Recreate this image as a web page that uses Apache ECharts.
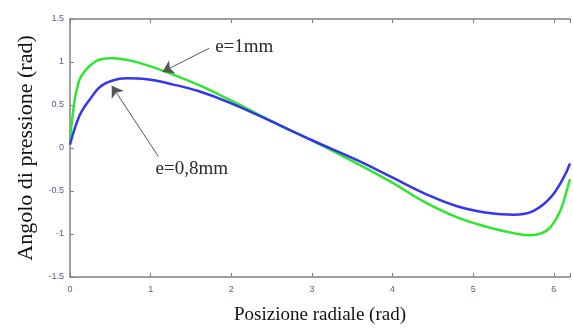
<!DOCTYPE html>
<html>
<head>
<meta charset="utf-8">
<script src="https://cdn.jsdelivr.net/npm/echarts@6/dist/echarts.min.js"></script>
<style>
html, body { margin: 0; padding: 0; background: #fff; }
#chart { width: 573px; height: 330px; }
</style>
</head>
<body>
<div id="chart"></div>
<script>
// e=1mm (green) curve
var greenX = [0, 0.03, 0.06, 0.09, 0.12, 0.18, 0.25, 0.37, 0.53, 0.78, 1.15, 1.6, 2.0, 2.59, 3.0, 3.58, 3.99, 4.4, 4.81, 5.22, 5.5, 5.71, 5.85, 5.96, 6.08, 6.17, 6.2];
var greenY = [0.11, 0.36, 0.57, 0.70, 0.80, 0.89, 0.96, 1.03, 1.045, 1.01, 0.90, 0.73, 0.55, 0.27, 0.09, -0.19, -0.40, -0.63, -0.81, -0.93, -0.99, -1.015, -0.99, -0.92, -0.73, -0.46, -0.36];
// e=0,8mm (blue) curve
var blueX = [0, 0.03, 0.06, 0.12, 0.18, 0.25, 0.37, 0.53, 0.7, 0.95, 1.27, 1.6, 2.0, 2.59, 3.0, 3.58, 3.99, 4.4, 4.81, 5.22, 5.51, 5.75, 5.96, 6.12, 6.2];
var blueY = [0.04, 0.14, 0.23, 0.38, 0.48, 0.57, 0.71, 0.785, 0.81, 0.80, 0.74, 0.66, 0.52, 0.27, 0.09, -0.15, -0.34, -0.53, -0.68, -0.76, -0.775, -0.73, -0.575, -0.345, -0.18];

var xTicks = [0, 1, 2, 3, 4, 5, 6];
var yTicks = ['1.5', '1', '0.5', '0', '-0.5', '-1', '-1.5'];

function pairs(xs, ys) {
	var out = [];
	for (var i = 0; i < xs.length; i++) {
		out.push([xs[i], ys[i]]);
	}
	return out;
}

var axisColor = '#7f7f7f';
var labelColor = '#5b5b86';

var chart = echarts.init(document.getElementById('chart'));

// arrow drawn from its tip back to the tail, head at the start
function arrow(tip, tail) {
	return {
		symbol: ['arrow', 'none'],
		symbolSize: 11,
		silent: true,
		label: { show: false },
		itemStyle: { color: '#111' },
		lineStyle: { color: '#555', width: 1, type: 'solid' },
		data: [[{ coord: tip }, { coord: tail }]]
	};
}

function note(at, text) {
	return {
		symbol: 'circle',
		symbolSize: 0,
		silent: true,
		data: [{ coord: at }],
		label: {
			show: true, position: 'right', distance: 0,
			formatter: text,
			fontFamily: 'Liberation Serif', fontSize: 19, color: '#2a2a2a'
		}
	};
}

chart.setOption({
	animation: false,
	grid: { left: 70, right: 0, top: 19, bottom: 50 },
	xAxis: [{
		type: 'value',
		min: 0,
		max: 6.2,
		interval: 1,
		name: 'Posizione radiale (rad)',
		nameLocation: 'middle',
		nameGap: 29,
		nameTextStyle: { fontFamily: 'Liberation Serif', fontSize: 19, color: '#111' },
		axisLine: { show: true, onZero: false, lineStyle: { color: axisColor, width: 1.5 } },
		axisTick: { show: true, inside: true, length: 4, lineStyle: { color: axisColor } },
		axisLabel: {
			fontSize: 9, color: labelColor, margin: 8,
			formatter: function(v) { return xTicks.indexOf(v) >= 0 ? String(v) : ''; }
		},
		splitLine: { show: false }
	}, {
		type: 'value',
		position: 'top',
		min: 0,
		max: 6.2,
		interval: 1,
		axisLine: { show: true, onZero: false, lineStyle: { color: axisColor, width: 1.5 } },
		axisTick: { show: true, inside: true, length: 4, lineStyle: { color: axisColor } },
		axisLabel: { show: false },
		splitLine: { show: false }
	}],
	yAxis: {
		type: 'value',
		min: -1.5,
		max: 1.5,
		interval: 0.5,
		name: 'Angolo di pressione (rad)',
		nameLocation: 'middle',
		nameGap: 32,
		nameTextStyle: { fontFamily: 'Liberation Serif', fontSize: 22, color: '#111' },
		axisLine: { show: true, onZero: false, lineStyle: { color: axisColor, width: 1.5 } },
		axisTick: { show: true, inside: true, length: 4, lineStyle: { color: axisColor } },
		axisLabel: {
			fontSize: 9, color: labelColor, margin: 6,
			formatter: function(v) {
				var s = String(v);
				return yTicks.indexOf(s) >= 0 ? s : '';
			}
		},
		splitLine: { show: false }
	},
	series: [{
		name: 'e=1mm',
		type: 'line',
		data: pairs(greenX, greenY),
		smooth: 0.4,
		showSymbol: false,
		lineStyle: { color: '#2ee62e', width: 2.5 },
		markLine: arrow([1.147, 0.885], [1.726, 1.16]),
		markPoint: note([1.80, 1.17], 'e=1mm')
	}, {
		name: 'e=0,8mm',
		type: 'line',
		data: pairs(blueX, blueY),
		smooth: 0.4,
		showSymbol: false,
		lineStyle: { color: '#3535ee', width: 2.5 },
		markLine: arrow([0.518, 0.724], [1.097, -0.10]),
		markPoint: note([1.06, -0.25], 'e=0,8mm')
	}]
});
</script>
</body>
</html>
